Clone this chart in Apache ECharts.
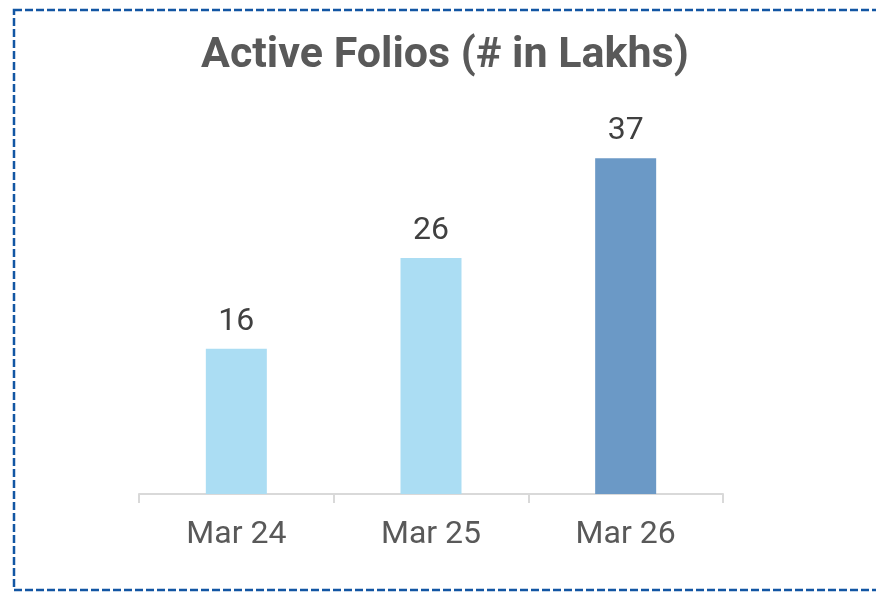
<!DOCTYPE html>
<html lang="en">
<head>
    <meta charset="UTF-8">
    <title>Active Folios</title>
    <style>
        html, body { margin: 0; padding: 0; background: #fff; }
        #app { width: 876px; height: 592px; }
    </style>
</head>
<body>
    <div id="app"></div>
    <script src="https://cdn.jsdelivr.net/npm/echarts@6.0.0/dist/echarts.min.js"></script>
    <script>
        // data
        var categories = ['Mar 24', 'Mar 25', 'Mar 26']
        var folios = [16, 26, 37]
        var barColors = ['#abddf3', '#abddf3', '#6b99c6']

        var mychart = echarts.init(document.getElementById('app'))

        var option = {
            backgroundColor: '#fff',
            textStyle: { fontFamily: 'Roboto' },
            title: {
                text: 'Active Folios (# in Lakhs)',
                left: 196,
                top: 30,
                textStyle: { fontFamily: 'Roboto', fontSize: 43, fontWeight: 'bold', color: '#595959' }
            },
            // dashed frame round the chart
            graphic: [{
                type: 'rect',
                shape: { x: 14, y: 10, width: 880, height: 580 },
                style: { fill: null, stroke: '#1256a3', lineWidth: 2.5, lineDash: [8, 3] },
                silent: true
            }],
            grid: { left: 139, right: 153, top: 131, bottom: 98 },
            xAxis: {
                type: 'category',
                data: categories,
                axisLine: { lineStyle: { color: '#d9d9d9', width: 2 } },
                axisTick: { show: true, length: 9, lineStyle: { color: '#d9d9d9', width: 2 } },
                axisLabel: { fontSize: 32, color: '#595959', margin: 25, fontFamily: 'Roboto' }
            },
            yAxis: {
                type: 'value', min: 0, max: 40,
                show: false
            },
            series: [{
                type: 'bar',
                barWidth: 61,
                data: folios.map(function (v, i) {
                    return { value: v, itemStyle: { color: barColors[i] } }
                }),
                label: {
                    show: true, position: 'top', distance: 11,
                    fontSize: 32, color: '#404040', fontFamily: 'Roboto'
                }
            }]
        }
        mychart.setOption(option)
    </script>
</body>
</html>
